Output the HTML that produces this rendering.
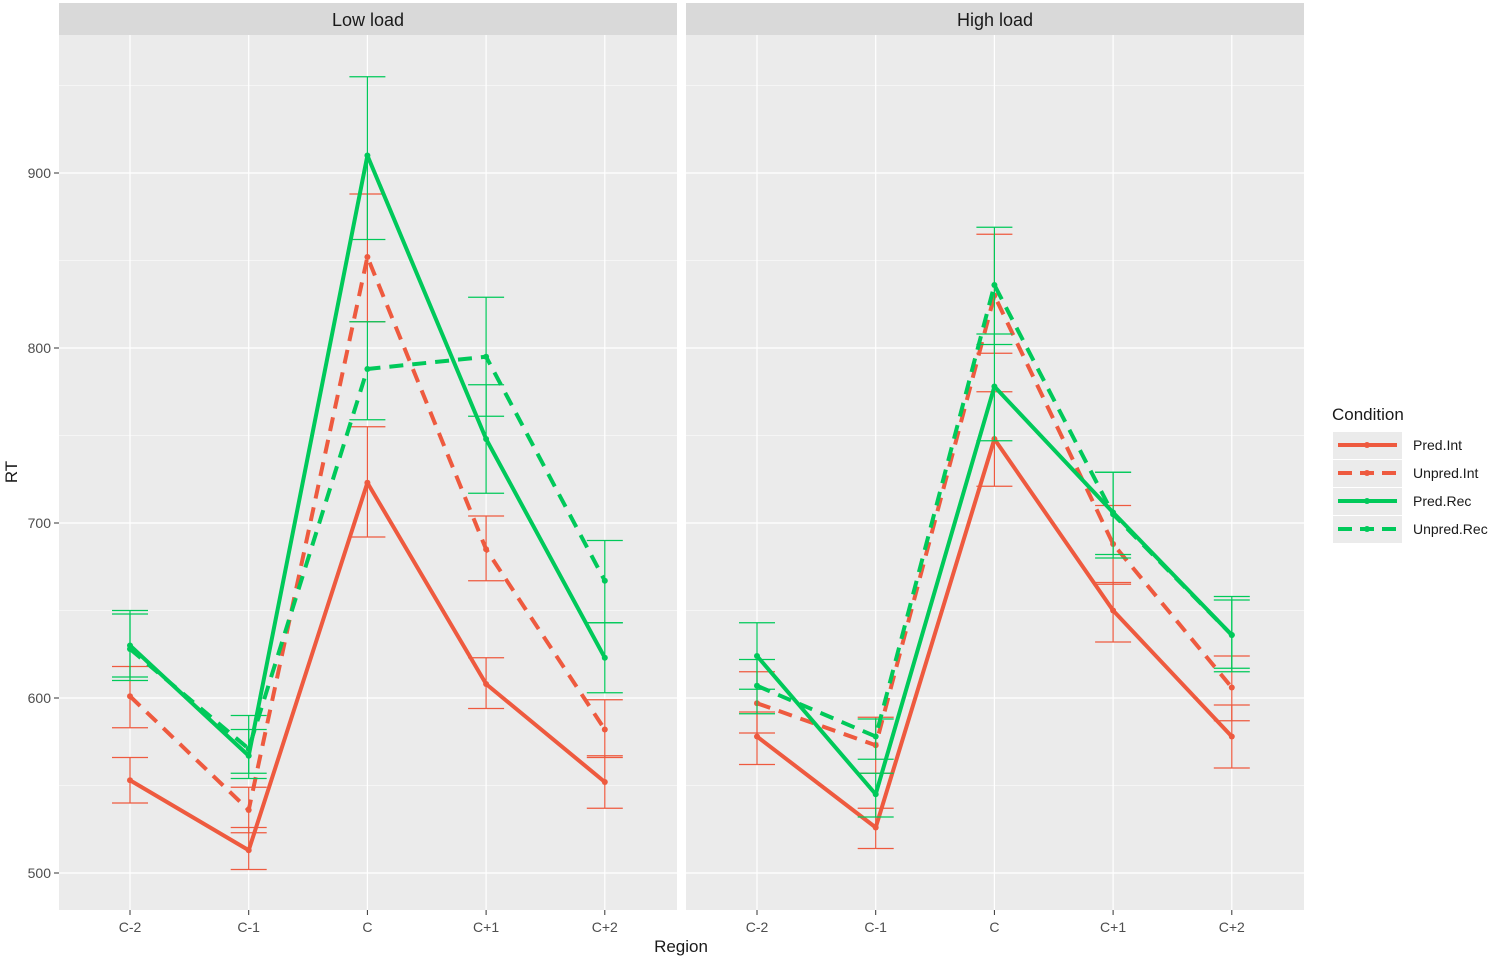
<!DOCTYPE html>
<html><head><meta charset="utf-8"><style>
body{margin:0;background:#fff;font-family:"Liberation Sans",Arial,sans-serif}
svg text{font-family:"Liberation Sans",Arial,sans-serif}
</style></head><body>
<svg id="chart" width="1500" height="958"></svg>
<script>
const regions=["C-2","C-1","C","C+1","C+2"];
const yTicks=[500,600,700,800,900];
const conditions=["Pred.Int","Unpred.Int","Pred.Rec","Unpred.Rec"];
const panels=["Low load","High load"];
// Low load means
const lowPredInt=[553,513,723,608,552];
const lowUnpredInt=[601,536,852,685,582];
const lowPredRec=[630,567,910,748,623];
const lowUnpredRec=[628,571,788,795,667];
// Low load error bar low/high
const lowPredIntLo=[540,502,692,594,537], lowPredIntHi=[566,526,755,623,567];
const lowUnpredIntLo=[583,523,815,667,566], lowUnpredIntHi=[618,549,888,704,599];
const lowPredRecLo=[610,554,862,717,603], lowPredRecHi=[650,582,955,779,643];
const lowUnpredRecLo=[612,557,759,761,643], lowUnpredRecHi=[648,590,815,829,690];
// High load
const highPredInt=[578,526,748,650,578];
const highUnpredInt=[597,573,830,688,606];
const highPredRec=[624,545,778,706,636];
const highUnpredRec=[607,578,836,705,636];
const highPredIntLo=[562,514,721,632,560], highPredIntHi=[592,537,775,666,596];
const highUnpredIntLo=[580,557,797,665,587], highUnpredIntHi=[615,589,865,710,624];
const highPredRecLo=[605,532,747,682,615], highPredRecHi=[643,557,808,729,656];
const highUnpredRecLo=[591,565,802,680,617], highUnpredRecHi=[622,588,869,729,658];

const NS="http://www.w3.org/2000/svg";
const svg=document.getElementById("chart");
function el(t,a,p){const e=document.createElementNS(NS,t);for(const k in a)e.setAttribute(k,a[k]);(p||svg).appendChild(e);return e;}
function y(v){return 873-(v-500)*1.75;}
const panelX=[59,686], panelW=618;
function x(p,i){return panelX[p]+71+i*118.7;}
const colors=["#F8766D".replace("F8766D","EE5A3F"),"#EE5A3F","#00C95A","#00C95A"];
const dash=[null,"14,9",null,"14,9"];
const data=[[lowPredInt,lowUnpredInt,lowPredRec,lowUnpredRec],[highPredInt,highUnpredInt,highPredRec,highUnpredRec]];
const lo=[[lowPredIntLo,lowUnpredIntLo,lowPredRecLo,lowUnpredRecLo],[highPredIntLo,highUnpredIntLo,highPredRecLo,highUnpredRecLo]];
const hi=[[lowPredIntHi,lowUnpredIntHi,lowPredRecHi,lowUnpredRecHi],[highPredIntHi,highUnpredIntHi,highPredRecHi,highUnpredRecHi]];

panels.forEach((name,p)=>{
  const g=el("g",{});
  
  
  el("rect",{x:panelX[p],y:35,width:panelW,height:875,fill:"#EBEBEB"},g);
  const s=el("rect",{x:panelX[p],y:3,width:panelW,height:32,fill:"#D9D9D9"},g);
  const st=el("text",{x:panelX[p]+panelW/2,y:26,"text-anchor":"middle","font-size":18,fill:"#1A1A1A"},g);
  st.textContent=name;
  
  
  for(let v=450;v<=950;v+=50){const yy=y(v);if(yy<35||yy>910)continue;
    el("line",{x1:panelX[p],x2:panelX[p]+panelW,y1:yy,y2:yy,stroke:"#fff","stroke-width":v%100?0.6:1.2},g);}
  regions.forEach((r,i)=>{
    el("line",{x1:x(p,i),x2:x(p,i),y1:35,y2:910,stroke:"#fff","stroke-width":1.2},g);
    el("line",{x1:x(p,i),x2:x(p,i),y1:910,y2:915,stroke:"#333","stroke-width":1},g);
    const t=el("text",{x:x(p,i),y:932,"text-anchor":"middle","font-size":14,fill:"#4D4D4D"},g);
    t.textContent=r;
    
    
  });
  conditions.forEach((c,k)=>{
    const col=colors[k];
    regions.forEach((r,i)=>{
      const X=x(p,i);
      el("line",{x1:X,x2:X,y1:y(lo[p][k][i]),y2:y(hi[p][k][i]),stroke:col,"stroke-width":1.2},g);
      el("line",{x1:X-18,x2:X+18,y1:y(lo[p][k][i]),y2:y(lo[p][k][i]),stroke:col,"stroke-width":1.2},g);
      el("line",{x1:X-18,x2:X+18,y1:y(hi[p][k][i]),y2:y(hi[p][k][i]),stroke:col,"stroke-width":1.2},g);
    });
    const pts=data[p][k].map((v,i)=>x(p,i)+","+y(v)).join(" ");
    const a={points:pts,fill:"none",stroke:col,"stroke-width":4,"stroke-linejoin":"round"};
    if(dash[k])a["stroke-dasharray"]=dash[k];
    const l=el("polyline",a,g);
    
    
    data[p][k].forEach((v,i)=>{
      const pt=el("circle",{cx:x(p,i),cy:y(v),r:3,fill:col},g);
      
      
    });
  });
});
yTicks.forEach(v=>{
  el("line",{x1:54,x2:59,y1:y(v),y2:y(v),stroke:"#333"});
  const t=el("text",{x:51,y:y(v)+5,"text-anchor":"end","font-size":14,fill:"#4D4D4D"});
  t.textContent=v;
  
  
});
const yt=el("text",{x:0,y:0,transform:"translate(17,472) rotate(-90)","text-anchor":"middle","font-size":17,fill:"#1A1A1A"});
yt.textContent="RT";


const xt=el("text",{x:681,y:952,"text-anchor":"middle","font-size":17,fill:"#1A1A1A"});
xt.textContent="Region";


const lg=el("g",{});


const lt=el("text",{x:1332,y:420,"font-size":17,fill:"#1A1A1A"},lg);
lt.textContent="Condition";
conditions.forEach((c,k)=>{
  const yy=445+k*28;
  el("rect",{x:1333,y:yy-13,width:69,height:27,fill:"#EBEBEB"},lg);
  const a={x1:1338,x2:1397,y1:yy,y2:yy,stroke:colors[k],"stroke-width":4};
  if(dash[k])a["stroke-dasharray"]="14,8";
  el("line",a,lg);
  el("circle",{cx:1367,cy:yy,r:3,fill:colors[k]},lg);
  const t=el("text",{x:1413,y:yy+5,"font-size":14,fill:"#1A1A1A"},lg);
  t.textContent=c;
  
  
});
</script>
</body></html>
